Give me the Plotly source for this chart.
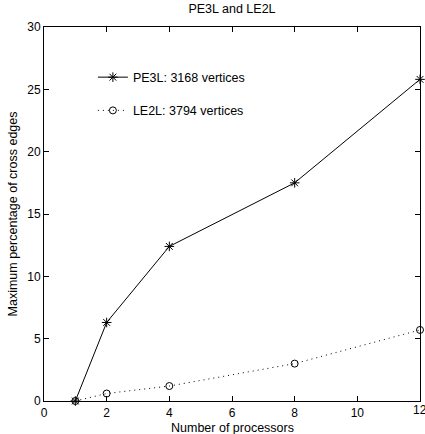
import plotly.graph_objects as go

processors = [1, 2, 4, 8, 12]
pe3l = [0.0, 6.3, 12.4, 17.5, 25.8]
le2l = [0.0, 0.6, 1.2, 3.0, 5.7]
xticks = [0, 2, 4, 6, 8, 10, 12]
yticks = [0, 5, 10, 15, 20, 25, 30]

font = dict(family="Liberation Sans, Arial, sans-serif", size=12.5, color="black")
tickfont = dict(family="Liberation Sans, Arial, sans-serif", size=12, color="black")

fig = go.Figure()
fig.add_trace(go.Scatter(
    x=processors, y=pe3l, mode="lines+markers", name="PE3L: 3168 vertices",
    line=dict(color="black", width=1),
    marker=dict(symbol="asterisk-open", size=8, color="black", line=dict(color="black", width=1)),
    legendgroup="a", cliponaxis=False))
fig.add_trace(go.Scatter(
    x=processors, y=le2l, mode="lines+markers", name="LE2L: 3794 vertices",
    line=dict(color="black", width=1, dash="1px,4px"),
    marker=dict(symbol="circle-open", size=7, color="black", line=dict(color="black", width=1)),
    legendgroup="b", cliponaxis=False))

axis_common = dict(showline=True, linecolor="black", linewidth=1, mirror="ticks",
                   ticks="inside", ticklen=5, tickcolor="black", showgrid=False,
                   zeroline=False, tickfont=tickfont, automargin=False)

fig.update_layout(
    width=425, height=434,
    margin=dict(l=44, r=5, t=27, b=33),
    paper_bgcolor="white", plot_bgcolor="white",
    font=font,
    title=dict(text="PE3L and LE2L", x=0.5, xanchor="center", xref="paper", y=0.99, yanchor="top",
               font=font),
    xaxis=dict(range=[0, 12], tickvals=xticks, ticktext=[str(v) for v in xticks[:-1]] + [""],
               ticklabelstandoff=1, **axis_common),
    yaxis=dict(range=[0, 30], tickvals=yticks,
               title=dict(text="Maximum percentage of cross edges", standoff=6, font=font), **axis_common),
    legend=dict(x=0.13, y=0.905, xanchor="left", yanchor="top", bgcolor="rgba(0,0,0,0)",
                borderwidth=0, tracegroupgap=14, itemwidth=30, font=font),
    showlegend=True,
)

fig.add_annotation(x=xticks[-1], y=0, xref="x", yref="paper", text=str(xticks[-1]),
                   showarrow=False, xanchor="center", yanchor="top", yshift=-1,
                   borderpad=0, font=tickfont)
fig.add_annotation(x=0.5, y=0, xref="paper", yref="paper", text="Number of processors",
                   showarrow=False, xanchor="center", yanchor="middle", yshift=-27,
                   borderpad=0, font=font)

fig.write_html("out.html")
